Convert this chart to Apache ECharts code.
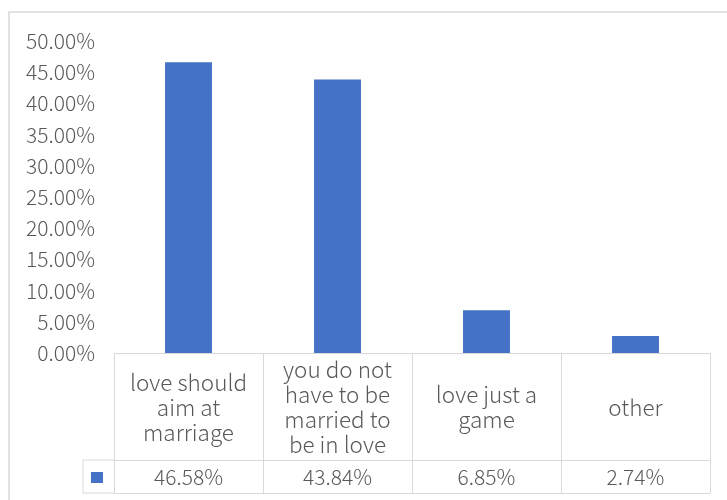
<!DOCTYPE html>
<html>
<head>
<meta charset="utf-8">
<script src="https://cdn.jsdelivr.net/npm/echarts@6/dist/echarts.min.js"></script>
<style>html,body{margin:0;padding:0;background:#fff}#c{width:727px;height:500px}</style>
</head>
<body>
<div id="c"></div>
<script>
const categories = ['love should\naim at\nmarriage', 'you do not\nhave to be\nmarried to\nbe in love', 'love just a\ngame', 'other'];
const values = [46.58, 43.84, 6.85, 2.74];
const yTicks = { min: 0, max: 50, interval: 5 };
const seriesName = 'Series1';

const gridLine = '#d9d9d9';
const textColor = '#595959';
const numFont = '"Noto Sans CJK SC", "Noto Sans", sans-serif';
const txtFont = '"Noto Sans CJK SC", "Noto Sans", sans-serif';

const chart = echarts.init(document.getElementById('c'), null, { renderer: 'canvas' });
chart.setOption({
  animation: false,
  backgroundColor: '#fff',
  grid: { left: 114, right: 17, top: 41, bottom: 147, containLabel: false },
  legend: {
    data: [seriesName], left: 91, top: 472, padding: 0, itemGap: 0,
    itemWidth: 12, itemHeight: 11, icon: 'rect', formatter: () => '',
    textStyle: { fontSize: 10 }
  },
  xAxis: [
    {
      type: 'category', data: categories, position: 'bottom',
      axisLine: { show: true, lineStyle: { color: gridLine, width: 1 } },
      axisTick: { show: true, length: 140, interval: 0, lineStyle: { color: gridLine, width: 1 } },
      axisLabel: {
        interval: 0, margin: 54, verticalAlign: 'middle', align: 'center',
        formatter: v => v.split('\n').map(s => '{c|' + s + '}').join('\n'),
        rich: { c: { align: 'center', lineHeight: 25, color: textColor, fontSize: 22.5, fontFamily: txtFont, fontWeight: 300 } }
      },
      splitLine: { show: false }
    },
    {
      type: 'category', data: values.map(v => v.toFixed(2) + '%'), position: 'bottom', offset: 107,
      axisLine: { show: true, lineStyle: { color: gridLine, width: 1 } },
      axisTick: { show: false },
      axisLabel: {
        interval: 0, margin: 17, verticalAlign: 'middle',
        color: textColor, fontSize: 21, fontFamily: numFont, fontWeight: 300
      }
    },
    {
      type: 'category', data: categories.map(() => ''), position: 'bottom', offset: 140,
      axisLine: { show: true, lineStyle: { color: gridLine, width: 1 } },
      axisTick: { show: false }, axisLabel: { show: false }
    }
  ],
  yAxis: {
    type: 'value', min: yTicks.min, max: yTicks.max, interval: yTicks.interval,
    axisLine: { show: false }, axisTick: { show: false }, splitLine: { show: false },
    axisLabel: {
      margin: 19, color: textColor, fontSize: 21, fontFamily: numFont, fontWeight: 300,
      formatter: v => v.toFixed(2) + '%'
    }
  },
  series: [{
    name: seriesName, type: 'bar', data: values, xAxisIndex: 0,
    barWidth: '31.5%', itemStyle: { color: '#4472C4' }
  }],
  graphic: [
    { type: 'rect', silent: true, shape: { x: 9, y: 12, width: 800, height: 600 },
      style: { fill: 'none', stroke: gridLine, lineWidth: 1.5 } },
    { type: 'polyline', silent: true,
      shape: { points: [[114, 460], [83, 460], [83, 493], [114, 493]] },
      style: { fill: 'none', stroke: gridLine, lineWidth: 1 } }
  ]
});
</script>
</body>
</html>
